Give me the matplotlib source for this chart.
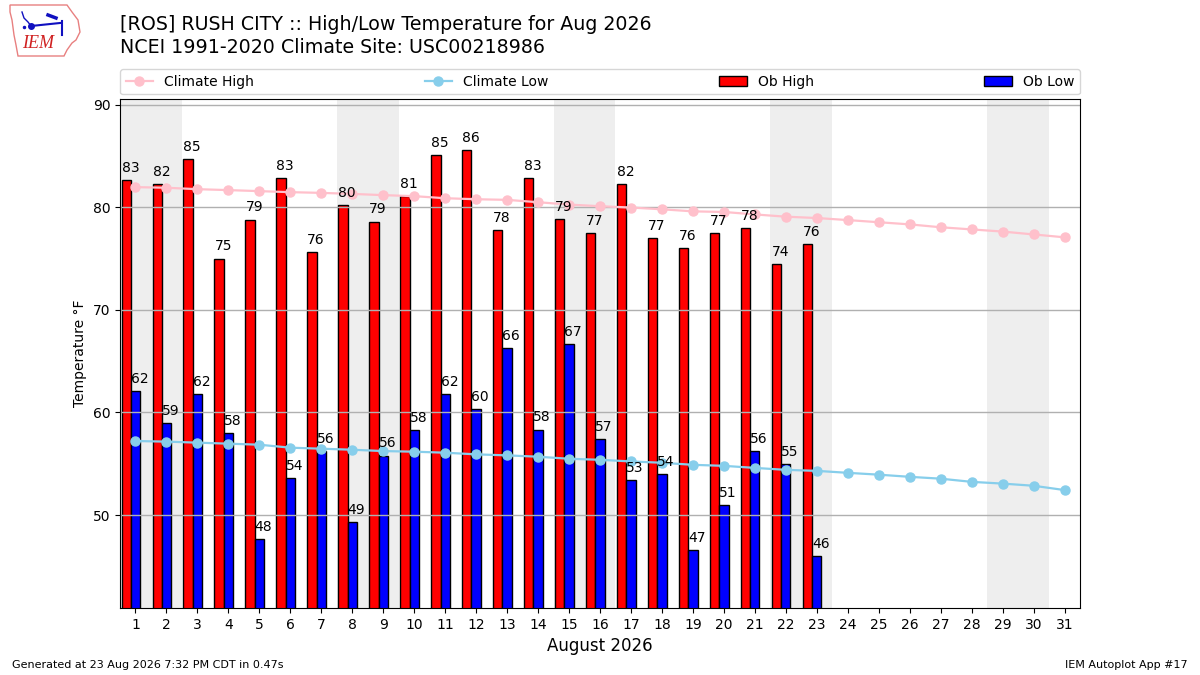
import numpy as np
import matplotlib
matplotlib.use('Agg')
import matplotlib.pyplot as plt
from matplotlib.patches import Polygon

# 每日数据（2026年8月）
days = list(range(1, 32))
ob_high = [82.65, 82.25, 84.7, 75.0, 78.8, 82.84, 75.6, 80.2, 78.6, 81.1, 85.1, 85.6,
           77.75, 82.84, 78.82, 77.45, 82.25, 77.03, 75.98, 77.45, 78.0, 74.45, 76.45]
ob_low = [62.06, 59.0, 61.8, 58.0, 47.7, 53.6, 56.2, 49.3, 55.8, 58.3, 61.8, 60.3,
          66.27, 58.33, 66.67, 57.45, 53.43, 54.02, 46.57, 50.98, 56.27, 55.0, 45.98]
clim_high = [81.96, 81.9, 81.76, 81.67, 81.57, 81.47, 81.4, 81.3, 81.18, 81.08, 80.88, 80.78,
             80.72, 80.49, 80.26, 80.1, 79.97, 79.8, 79.6, 79.54, 79.3, 79.08, 78.95,
             78.75, 78.54, 78.33, 78.05, 77.84, 77.63, 77.35, 77.07]
clim_low = [57.22, 57.16, 57.06, 56.96, 56.86, 56.57, 56.47, 56.37, 56.24, 56.18, 56.08, 55.92,
            55.82, 55.69, 55.49, 55.39, 55.23, 55.1, 54.9, 54.8, 54.6, 54.41, 54.31,
            54.12, 53.94, 53.73, 53.55, 53.24, 53.07, 52.86, 52.44]
weekend_start = [1, 8, 15, 22, 29]  # 周六

fig = plt.figure(figsize=(12, 6.75), dpi=100)
ax = fig.add_axes([0.1, 0.0993, 0.8, 0.7533])

# 周末阴影
for d in weekend_start:
    ax.axvspan(d - 0.5, d + 1.5, color='#EEEEEE', zorder=0, lw=0)

obs_days = np.array(days[:len(ob_high)])
ax.bar(obs_days - 0.3, ob_high, width=0.3, color='r', edgecolor='k', label='Ob High', zorder=1)
ax.bar(obs_days, ob_low, width=0.3, color='b', edgecolor='k', label='Ob Low', zorder=1)

for d, v in zip(obs_days, ob_high):
    ax.text(d - 0.45, v + 0.5, f'{v:.0f}', ha='left', va='bottom', fontsize=10, zorder=4)
for d, v in zip(obs_days, ob_low):
    ax.text(d - 0.15, v + 0.5, f'{v:.0f}', ha='left', va='bottom', fontsize=10, zorder=4)

ax.plot(days, clim_high, color='pink', marker='o', ms=6.5, lw=1.6, label='Climate High', zorder=3)
ax.plot(days, clim_low, color='skyblue', marker='o', ms=6.5, lw=1.6, label='Climate Low', zorder=3)

ax.set_xlim(0.5, 31.5)
ax.set_ylim(40.95, 90.5)
ax.set_xticks(days)
ax.set_yticks([50, 60, 70, 80, 90])
ax.tick_params(labelsize=10)
ax.yaxis.grid(True, color='#b0b0b0', lw=1)
ax.set_ylabel('Temperature °F', fontsize=10)
ax.set_xlabel('August 2026', fontsize=12)

handles, labels = ax.get_legend_handles_labels()
order = ['Climate High', 'Climate Low', 'Ob High', 'Ob Low']
hl = dict(zip(labels, handles))
ax.legend([hl[k] for k in order], order, loc='lower left', bbox_to_anchor=(0, 1.01, 1, 0.1),
          ncol=4, mode='expand', borderaxespad=0, fontsize=10)

fig.text(0.1, 0.964, '[ROS] RUSH CITY :: High/Low Temperature for Aug 2026', fontsize=13.7, va='center')
fig.text(0.1, 0.929, 'NCEI 1991-2020 Climate Site: USC00218986', fontsize=13.7, va='center')

fig.text(0.01, 0.01, 'Generated at 23 Aug 2026 7:32 PM CDT in 0.47s', fontsize=8)
fig.text(0.99, 0.01, 'IEM Autoplot App #17', fontsize=8, ha='right')

# 简易 IEM 标志（像素坐标）
lax = fig.add_axes([0, 1 - 65 / 675, 100 / 1200, 65 / 675])
lax.set_xlim(0, 100)
lax.set_ylim(65, 0)
lax.axis('off')
outline = [(10, 5), (67, 5), (72, 12), (78, 20), (80, 32), (76, 40), (72, 43), (67, 50),
           (64, 56), (18, 56), (16, 45), (14, 35), (12, 20), (10, 12)]
lax.add_patch(Polygon(outline, closed=True, fill=False, edgecolor='#e88080', lw=1))
lax.text(38, 44, 'IEM', color='#d02020', fontsize=13, family='Liberation Serif',
         style='italic', ha='center', va='center')
lax.plot([31, 60], [26, 23], color='#1010c0', lw=1.5)
lax.plot([31], [26], 'o', color='#1010c0', ms=4)
lax.plot([22, 24, 28, 31], [12, 18, 22, 26], color='#1010c0', lw=1)
lax.plot([62, 62], [21, 35], color='#1010c0', lw=1.5)
lax.plot([48, 56], [15, 18], color='#1010c0', lw=2.5)
lax.plot([24], [27], '.', color='#1010c0', ms=3)

fig.savefig('out.png', dpi=100)
